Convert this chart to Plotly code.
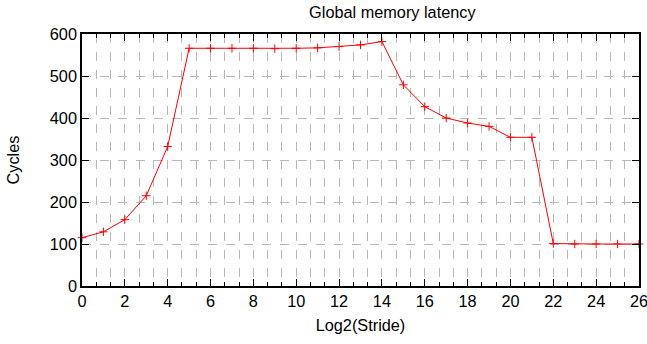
import plotly.graph_objects as go

# Log2 of the access stride and measured latency (cycles)
log2_stride = list(range(27))
cycles = [115, 129, 158, 215, 332, 566, 566, 566, 566, 565, 566, 567, 570, 574, 582,
          479, 427, 400, 388, 380, 354, 354, 101, 100, 100, 100, 100]

FONT = "Liberation Sans, Arial, Helvetica, sans-serif"
TXT = dict(family=FONT, size=16.3, color="#000000")

fig = go.Figure(
    go.Scatter(
        x=log2_stride,
        y=cycles,
        mode="lines+markers",
        line=dict(color="#ff0000", width=1),
        marker=dict(symbol="cross-thin", size=6, line=dict(color="#ff0000", width=1)),
        showlegend=False,
        cliponaxis=False,
    )
)

grid = dict(showgrid=True, gridcolor="#b8b8b8", gridwidth=1, griddash="dash")

fig.update_layout(
    width=647,
    height=344,
    margin=dict(l=82, r=8, t=34, b=58, autoexpand=False),
    paper_bgcolor="white",
    plot_bgcolor="white",
    font=TXT,
    title=dict(text="Global memory latency", x=(82 + 639) / 2 / 647, xref="paper",
               xanchor="center", y=1 - 12 / 344, yanchor="middle", font=TXT),
    xaxis=dict(
        range=[0, 26], dtick=2, tick0=0, automargin=False, tickfont=TXT,
        ticklabeloverflow="allow",
        title=dict(text="Log2(Stride)", standoff=10, font=TXT),
        showline=True, linecolor="black", linewidth=1.5, mirror="ticks",
        ticks="inside", ticklen=7, tickwidth=1, tickcolor="black",
        minor=dict(dtick=2 / 3, tick0=0, ticks="inside", ticklen=4, tickcolor="black",
                   showgrid=True, gridcolor="#b8b8b8", griddash="dash", gridwidth=1),
        zeroline=False, **grid,
    ),
    yaxis=dict(
        range=[0, 600], dtick=100, tick0=0, automargin=False, tickfont=TXT,
        ticklabeloverflow="allow",
        title=dict(text="Cycles", standoff=26, font=TXT),
        showline=True, linecolor="black", linewidth=1.5, mirror="ticks",
        ticks="inside", ticklen=7, tickwidth=1, tickcolor="black",
        zeroline=False, **grid,
    ),
)

fig.write_html("out.html")
